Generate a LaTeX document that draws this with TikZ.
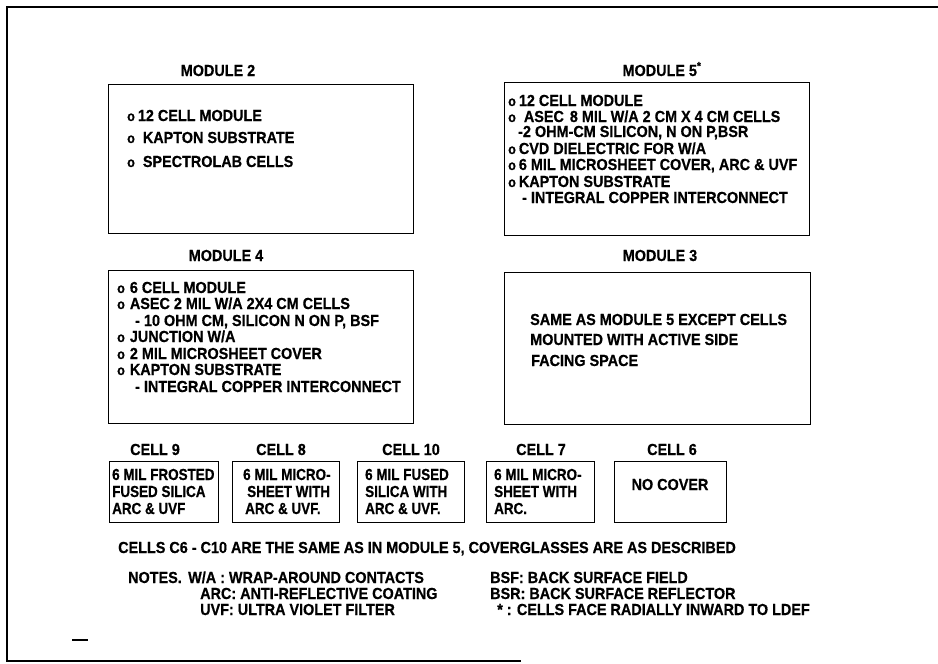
\documentclass[tikz,border=0pt]{standalone}
\usepackage{fontspec}
\setmainfont{Liberation Sans}[BoldFeatures={FakeStretch=0.9,FakeBold=0.6}]
\newfontfamily\cellfont{Liberation Sans Bold}[FakeStretch=0.84,FakeBold=0.6]
\newcommand\bul{{\fontsize{14}{14}\selectfont o}}
\tikzset{
  frame/.style={line width=2pt, line cap=rect},
  box/.style={draw, line width=1.3pt, anchor=north west, inner sep=0pt},
  txt/.style={anchor=base west, inner sep=0pt, font=\fontsize{16}{16}\selectfont\bfseries},
  ttl/.style={anchor=base, inner sep=0pt, font=\fontsize{16}{16}\selectfont\bfseries},
  ctxt/.style={anchor=base west, inner sep=0pt, font=\fontsize{16}{16}\cellfont},
}
\begin{document}
\begin{tikzpicture}[x=1pt, y=-1pt]
\useasboundingbox (0,0) rectangle (938,664);
% outer frame
\coordinate (fa) at (938,7);
\coordinate (fb) at (7,7);
\coordinate (fc) at (7,661);
\coordinate (fd) at (520,661);
\draw[frame] (fa) -- (fb) -- (fc) -- (fd);
\coordinate (ka) at (72,640);
\coordinate (kb) at (88,640);
\draw[line width=2.4pt] (ka) -- (kb);

% ---------- MODULE 2
\node[ttl] (t2) at (218,76) {MODULE 2};
\node[box, minimum width=305pt, minimum height=149pt] (m2) at (108,84) {};
\node[txt] (m2a) at (127,121) {\bul\hspace{3pt}12 CELL MODULE};
\node[txt] (m2b) at (127,143) {\bul\hspace{8pt}KAPTON SUBSTRATE};
\node[txt] (m2c) at (127,167) {\bul\hspace{8pt}SPECTROLAB CELLS};

% ---------- MODULE 5
\node[ttl] (t5) at (662,76) {MODULE 5\textsuperscript{*}};
\node[box, minimum width=305pt, minimum height=153pt] (m5) at (504,82) {};
\node[txt] (m5a) at (508,106) {\bul\hspace{3pt}12 CELL MODULE};
\node[txt] (m5b) at (508,122) {\bul\hspace{8pt}ASEC\hspace{6pt}8 MIL W/A 2 CM X 4 CM CELLS};
\node[txt] (m5c) at (518,137) {-2 OHM-CM SILICON, N ON P,BSR};
\node[txt] (m5d) at (508,154) {\bul\hspace{3pt}CVD DIELECTRIC FOR W/A};
\node[txt] (m5e) at (508,170) {\bul\hspace{3pt}6 MIL MICROSHEET COVER, ARC \& UVF};
\node[txt] (m5f) at (508,187) {\bul\hspace{3pt}KAPTON SUBSTRATE};
\node[txt] (m5g) at (522,203) {- INTEGRAL COPPER INTERCONNECT};

% ---------- MODULE 4
\node[ttl] (t4) at (226,261) {MODULE 4};
\node[box, minimum width=305pt, minimum height=153pt] (m4) at (108,270) {};
\node[txt] (m4a) at (117,293) {\bul\hspace{5pt}6 CELL MODULE};
\node[txt] (m4b) at (117,309) {\bul\hspace{5pt}ASEC 2 MIL W/A 2X4 CM CELLS};
\node[txt] (m4c) at (135,326) {- 10 OHM CM, SILICON N ON P, BSF};
\node[txt] (m4d) at (117,342) {\bul\hspace{5pt}JUNCTION W/A};
\node[txt] (m4e) at (117,359) {\bul\hspace{5pt}2 MIL MICROSHEET COVER};
\node[txt] (m4f) at (117,375) {\bul\hspace{5pt}KAPTON SUBSTRATE};
\node[txt] (m4g) at (135,392) {- INTEGRAL COPPER INTERCONNECT};

% ---------- MODULE 3
\node[ttl] (t3) at (660,261) {MODULE 3};
\node[box, minimum width=306pt, minimum height=152pt] (m3) at (504,272) {};
\node[txt] (m3a) at (530,325) {SAME AS MODULE 5 EXCEPT CELLS};
\node[txt] (m3b) at (530,345) {MOUNTED WITH ACTIVE SIDE};
\node[txt] (m3c) at (531,366) {FACING SPACE};

% ---------- CELLS
\node[ttl] (tc9) at (155,455) {CELL 9};
\node[box, minimum width=109pt, minimum height=61pt] (c9) at (109,461) {};
\node[ctxt] (c9a) at (112,480) {6 MIL FROSTED};
\node[ctxt] (c9b) at (112,497) {FUSED SILICA};
\node[ctxt] (c9c) at (112,514) {ARC \& UVF};

\node[ttl] (tc8) at (281,455) {CELL 8};
\node[box, minimum width=107pt, minimum height=61pt] (c8) at (232,461) {};
\node[ctxt] (c8a) at (243,480) {6 MIL MICRO-};
\node[ctxt] (c8b) at (247,497) {SHEET WITH};
\node[ctxt] (c8c) at (245,514) {ARC \& UVF.};

\node[ttl] (tc10) at (411,455) {CELL 10};
\node[box, minimum width=107pt, minimum height=61pt] (c10) at (357,461) {};
\node[ctxt] (c10a) at (365,480) {6 MIL FUSED};
\node[ctxt] (c10b) at (365,497) {SILICA WITH};
\node[ctxt] (c10c) at (365,514) {ARC \& UVF.};

\node[ttl] (tc7) at (541,455) {CELL 7};
\node[box, minimum width=108pt, minimum height=61pt] (c7) at (486,461) {};
\node[ctxt] (c7a) at (494,480) {6 MIL MICRO-};
\node[ctxt] (c7b) at (494,497) {SHEET WITH};
\node[ctxt] (c7c) at (494,514) {ARC.};

\node[ttl] (tc6) at (672,455) {CELL 6};
\node[box, minimum width=112pt, minimum height=61pt] (c6) at (614,461) {};
\node[ttl] (c6a) at (670,490) {NO COVER};

% ---------- footer
\node[txt] (cells) at (118,553) {CELLS C6 - C10 ARE THE SAME AS IN MODULE 5, COVERGLASSES ARE AS DESCRIBED};
\node[txt] (n0) at (128,583) {NOTES.};
\node[txt] (n1) at (188,583) {W/A : WRAP-AROUND CONTACTS};
\node[txt] (n2) at (200,599) {ARC: ANTI-REFLECTIVE COATING};
\node[txt] (n3) at (200,615) {UVF: ULTRA VIOLET FILTER};
\node[txt] (n4) at (490,583) {BSF: BACK SURFACE FIELD};
\node[txt] (n5) at (490,599) {BSR: BACK SURFACE REFLECTOR};
\node[txt] (n6) at (497,615) {*\hspace{4pt}: CELLS FACE RADIALLY INWARD TO LDEF};
\end{tikzpicture}
\end{document}
